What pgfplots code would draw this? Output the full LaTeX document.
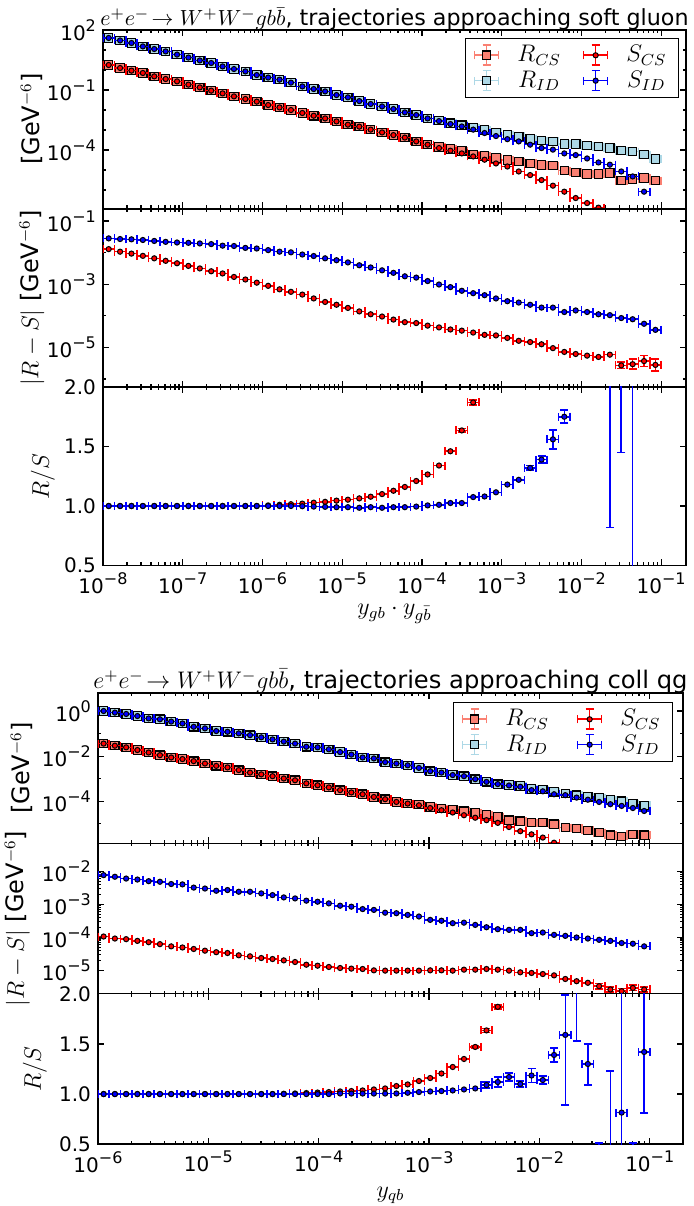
\documentclass[border=0pt]{standalone}
\usepackage[no-math]{fontspec}
\setmainfont{DejaVu Sans}
\usepackage{pgfplots}
\usepackage{pgfplotstable}
\pgfplotsset{compat=1.18}
\definecolor{salm}{RGB}{250,128,114}
\definecolor{lblue}{RGB}{173,216,230}
\newcommand{\tp}[1]{10\raisebox{0.45em}{\fontsize{8}{9}\selectfont#1}}

% bins of figure 1: 7 per decade, figure 2: 49 over 5 decades
\pgfplotstableread{
x rcs scs rid sid
1.1788e-8 1.78 1.78 40 40
1.6379e-8 1.26 1.26 30 30
2.2758e-8 0.93 0.93 22.4 22.4
3.1623e-8 0.71 0.71 15.1 15.1
4.3940e-8 0.48 0.48 11.2 11.2
6.1054e-8 0.355 0.355 8.5 8.5
8.4834e-8 0.27 0.27 5.9 5.9
1.1788e-7 0.186 0.186 4.2 4.2
1.6379e-7 0.135 0.135 3.0 3.0
2.2758e-7 0.093 0.093 2.24 2.24
3.1623e-7 0.068 0.068 1.51 1.51
4.3940e-7 0.048 0.048 1.12 1.12
6.1054e-7 0.0355 0.0355 0.85 0.85
8.4834e-7 0.0263 0.0263 0.56 0.56
1.1788e-6 0.0178 0.0178 0.42 0.42
1.6379e-6 0.0135 0.0135 0.33 0.33
2.2758e-6 0.0100 0.0100 0.234 0.234
3.1623e-6 7.1e-3 7.1e-3 0.151 0.151
4.3940e-6 5.2e-3 5.2e-3 0.112 0.112
6.1054e-6 3.8e-3 3.8e-3 0.085 0.085
8.4834e-6 2.7e-3 2.7e-3 0.056 0.056
1.1788e-5 1.86e-3 1.86e-3 0.043 0.043
1.6379e-5 1.48e-3 1.48e-3 0.028 0.028
2.2758e-5 1.05e-3 1.05e-3 0.020 0.020
3.1623e-5 7.6e-4 7.6e-4 0.0151 0.0151
4.3940e-5 5.6e-4 5.6e-4 0.0112 0.0112
6.1054e-5 4.2e-4 4.2e-4 7.6e-3 7.6e-3
8.4834e-5 2.7e-4 2.7e-4 5.6e-3 5.6e-3
1.1788e-4 1.86e-4 1.86e-4 3.8e-3 3.8e-3
1.6379e-4 1.41e-4 1.26e-4 2.95e-3 2.8e-3
2.2758e-4 1.12e-4 9.3e-5 2.19e-3 2.0e-3
3.1623e-4 8.9e-5 6.8e-5 1.74e-3 1.51e-3
4.3940e-4 5.9e-5 4.8e-5 1.32e-3 1.05e-3
6.1054e-4 5.2e-5 3.3e-5 1.0e-3 7.1e-4
8.4834e-4 4.0e-5 2.14e-5 7.6e-4 5.0e-4
1.1788e-3 3.16e-5 1.51e-5 5.6e-4 3.5e-4
1.6379e-3 2.63e-5 8.5e-6 4.8e-4 2.7e-4
2.2758e-3 2.14e-5 5.6e-6 3.55e-4 1.86e-4
3.1623e-3 1.78e-5 3.16e-6 2.95e-4 1.26e-4
4.3940e-3 1.66e-5 1.66e-6 2.69e-4 1.05e-4
6.1054e-3 9.3e-6 8.3e-7 2.0e-4 6.8e-5
8.4834e-3 7.6e-6 4.0e-7 2.0e-4 5.6e-5
1.1788e-2 6.3e-6 2.24e-7 1.66e-4 3.8e-5
1.6379e-2 6.3e-6 1.32e-7 1.48e-4 2.4e-5
2.2758e-2 7.1e-6 nan 1.26e-4 1.86e-5
3.1623e-2 2.95e-6 nan 9.3e-5 8.5e-6
4.3940e-2 3.55e-6 nan 8.3e-5 4.8e-6
6.1054e-2 4.0e-6 nan 5.9e-5 8.3e-7
8.4834e-2 2.95e-6 nan 3.55e-5 nan
}\topA

\pgfplotstableread{
x dcs did
1.1788e-8 0.0129 0.0282
1.6379e-8 0.0107 0.0269
2.2758e-8 9.3e-3 0.0263
3.1623e-8 7.9e-3 0.0251
4.3940e-8 6.6e-3 0.0234
6.1054e-8 5.5e-3 0.0219
8.4834e-8 4.6e-3 0.0209
1.1788e-7 3.8e-3 0.0204
1.6379e-7 3.16e-3 0.0195
2.2758e-7 2.57e-3 0.0186
3.1623e-7 2.19e-3 0.0166
4.3940e-7 1.70e-3 0.0162
6.1054e-7 1.41e-3 0.0141
8.4834e-7 1.12e-3 0.0135
1.1788e-6 8.9e-4 0.0120
1.6379e-6 6.9e-4 0.0107
2.2758e-6 5.75e-4 0.0102
3.1623e-6 4.7e-4 8.7e-3
4.3940e-6 3.55e-4 7.8e-3
6.1054e-6 2.75e-4 6.6e-3
8.4834e-6 2.24e-4 5.75e-3
1.1788e-5 1.78e-4 4.9e-3
1.6379e-5 1.38e-4 3.98e-3
2.2758e-5 1.12e-4 3.39e-3
3.1623e-5 9.5e-5 2.75e-3
4.3940e-5 7.6e-5 2.29e-3
6.1054e-5 6.3e-5 1.78e-3
8.4834e-5 5.9e-5 1.62e-3
1.1788e-4 4.9e-5 1.26e-3
1.6379e-4 4.3e-5 9.8e-4
2.2758e-4 3.7e-5 8.1e-4
3.1623e-4 3.4e-5 6.2e-4
4.3940e-4 2.95e-5 5.2e-4
6.1054e-4 2.5e-5 4.5e-4
8.4834e-4 2.4e-5 3.55e-4
1.1788e-3 2.0e-5 2.9e-4
1.6379e-3 1.62e-5 2.63e-4
2.2758e-3 1.48e-5 2.24e-4
3.1623e-3 1.26e-5 1.82e-4
4.3940e-3 9.5e-6 1.82e-4
6.1054e-3 7.2e-6 1.32e-4
8.4834e-3 6.2e-6 1.48e-4
1.1788e-2 5.5e-6 1.32e-4
1.6379e-2 5.0e-6 1.12e-4
2.2758e-2 5.9e-6 1.05e-4
3.1623e-2 nan 8.5e-5
4.3940e-2 nan 7.8e-5
6.1054e-2 nan 5.6e-5
8.4834e-2 nan 3.6e-5
}\midA

\pgfplotstableread{
x qcs qid
1.1788e-8 1.0 1.0
1.6379e-8 1.0 1.0
2.2758e-8 1.0 1.0
3.1623e-8 1.0 1.0
4.3940e-8 1.0 1.0
6.1054e-8 1.0 1.0
8.4834e-8 1.0 1.0
1.1788e-7 1.0 1.0
1.6379e-7 1.0 1.0
2.2758e-7 1.0 1.0
3.1623e-7 1.0 1.0
4.3940e-7 1.0 1.0
6.1054e-7 1.0 1.0
8.4834e-7 1.0 1.0
1.1788e-6 1.005 1.0
1.6379e-6 1.01 1.0
2.2758e-6 1.015 1.0
3.1623e-6 1.02 0.998
4.3940e-6 1.028 0.995
6.1054e-6 1.035 0.993
8.4834e-6 1.045 0.99
1.1788e-5 1.053 0.99
1.6379e-5 1.064 0.985
2.2758e-5 1.078 0.99
3.1623e-5 1.10 0.985
4.3940e-5 1.128 0.99
6.1054e-5 1.16 0.99
8.4834e-5 1.21 0.995
1.1788e-4 1.265 1.005
1.6379e-4 1.34 1.01
2.2758e-4 1.46 1.025
3.1623e-4 nan 1.025
4.3940e-4 nan 1.075
6.1054e-4 nan 1.08
8.4834e-4 nan 1.115
1.1788e-3 nan 1.18
1.6379e-3 nan 1.22
}\ratA

\pgfplotstableread{
x rcs scs rid sid
1.1247e-6 0.036 0.036 1.0 1.0
1.4227e-6 0.029 0.029 0.85 0.85
1.7993e-6 0.0245 0.0245 0.74 0.74
2.2758e-6 0.0186 0.0186 0.60 0.60
2.8791e-6 0.0145 0.0145 0.47 0.47
3.6411e-6 0.011 0.011 0.43 0.43
4.6057e-6 8.7e-3 8.7e-3 0.34 0.34
5.8260e-6 7.4e-3 7.4e-3 0.28 0.28
7.3693e-6 6.0e-3 6.0e-3 0.20 0.20
9.3196e-6 4.7e-3 4.7e-3 0.17 0.17
1.1788e-5 3.7e-3 3.7e-3 0.129 0.129
1.4910e-5 3.16e-3 3.16e-3 0.120 0.120
1.8859e-5 2.4e-3 2.4e-3 0.102 0.102
2.3853e-5 1.86e-3 1.86e-3 0.085 0.085
3.0171e-5 1.55e-3 1.55e-3 0.068 0.068
3.8162e-5 1.29e-3 1.29e-3 0.055 0.055
4.8271e-5 1.02e-3 1.02e-3 0.044 0.044
6.1054e-5 8.5e-4 8.5e-4 0.036 0.036
7.7227e-5 6.2e-4 6.2e-4 0.026 0.026
9.7679e-5 5.1e-4 5.1e-4 0.0245 0.0245
1.2355e-4 4.1e-4 4.1e-4 0.020 0.020
1.5627e-4 3.1e-4 3.1e-4 0.0151 0.0151
1.9767e-4 2.45e-4 2.45e-4 0.0117 0.0117
2.5001e-4 2.04e-4 2.04e-4 8.7e-3 8.7e-3
3.1623e-4 1.55e-4 1.55e-4 7.9e-3 7.9e-3
3.9997e-4 1.23e-4 1.23e-4 5.4e-3 5.4e-3
5.0590e-4 9.3e-5 9.3e-5 4.7e-3 4.7e-3
6.3996e-4 7.9e-5 7.9e-5 3.9e-3 3.9e-3
8.0946e-4 7.1e-5 6.6e-5 3.0e-3 3.0e-3
1.0238e-3 5.6e-5 5.0e-5 2.14e-3 2.14e-3
1.2949e-3 4.7e-5 4.0e-5 1.86e-3 1.86e-3
1.6380e-3 4.3e-5 3.16e-5 1.45e-3 1.45e-3
2.0720e-3 3.6e-5 2.4e-5 1.29e-3 1.29e-3
2.6206e-3 3.0e-5 1.86e-5 9.5e-4 9.5e-4
3.3147e-3 2.57e-5 1.45e-5 7.2e-4 7.2e-4
4.1927e-3 2.0e-5 1.10e-5 5.75e-4 5.75e-4
5.3031e-3 1.45e-5 7.2e-6 5.25e-4 5.0e-4
6.7079e-3 1.29e-5 4.7e-6 4.7e-4 4.4e-4
8.4834e-3 1.12e-5 3.4e-6 3.5e-4 3.1e-4
1.0730e-2 1.12e-5 2.45e-6 3.3e-4 2.75e-4
1.3572e-2 9.5e-6 1.45e-6 2.63e-4 2.04e-4
1.7168e-2 6.8e-6 7.9e-7 2.19e-4 1.86e-4
2.1715e-2 6.2e-6 nan 1.86e-4 1.45e-4
2.7465e-2 5.1e-6 nan 1.55e-4 1.17e-4
3.4741e-2 4.1e-6 nan 1.41e-4 9.3e-5
4.3940e-2 3.1e-6 nan 1.17e-4 7.4e-5
5.5583e-2 2.75e-6 nan 1.0e-4 6.2e-5
7.0302e-2 3.4e-6 nan 7.9e-5 5.0e-5
8.8923e-2 3.1e-6 nan 6.6e-5 3.7e-5
}\topB

\pgfplotstableread{
x dcs did
1.1247e-6 1.07e-4 7.6e-3
1.4227e-6 9.3e-5 6.8e-3
1.7993e-6 8.9e-5 6.0e-3
2.2758e-6 7.9e-5 5.6e-3
2.8791e-6 7.2e-5 5.0e-3
3.6411e-6 6.3e-5 4.8e-3
4.6057e-6 5.4e-5 4.1e-3
5.8260e-6 5.0e-5 4.0e-3
7.3693e-6 4.5e-5 3.2e-3
9.3196e-6 4.0e-5 3.0e-3
1.1788e-5 3.6e-5 2.57e-3
1.4910e-5 3.4e-5 2.7e-3
1.8859e-5 2.9e-5 2.4e-3
2.3853e-5 2.7e-5 2.4e-3
3.0171e-5 2.4e-5 2.14e-3
3.8162e-5 2.24e-5 1.9e-3
4.8271e-5 2.04e-5 1.62e-3
6.1054e-5 1.82e-5 1.51e-3
7.7227e-5 1.51e-5 1.29e-3
9.7679e-5 1.41e-5 1.20e-3
1.2355e-4 1.29e-5 1.07e-3
1.5627e-4 1.20e-5 9.1e-4
1.9767e-4 1.15e-5 8.5e-4
2.5001e-4 1.12e-5 7.2e-4
3.1623e-4 1.02e-5 6.8e-4
3.9997e-4 1.0e-5 5.6e-4
5.0590e-4 1.0e-5 5.4e-4
6.3996e-4 1.0e-5 4.8e-4
8.0946e-4 1.0e-5 4.3e-4
1.0238e-3 1.02e-5 3.4e-4
1.2949e-3 1.02e-5 3.2e-4
1.6380e-3 1.0e-5 2.7e-4
2.0720e-3 1.07e-5 2.8e-4
2.6206e-3 1.07e-5 2.4e-4
3.3147e-3 1.12e-5 2.04e-4
4.1927e-3 1.07e-5 1.78e-4
5.3031e-3 1.0e-5 1.70e-4
6.7079e-3 8.9e-6 1.70e-4
8.4834e-3 8.5e-6 1.35e-4
1.0730e-2 7.9e-6 1.41e-4
1.3572e-2 7.2e-6 1.20e-4
1.7168e-2 5.6e-6 1.12e-4
2.1715e-2 4.8e-6 1.0e-4
2.7465e-2 4.3e-6 9.3e-5
3.4741e-2 nan 8.5e-5
4.3940e-2 nan 7.9e-5
5.5583e-2 nan 6.8e-5
7.0302e-2 nan 6.5e-5
8.8923e-2 nan 5.4e-5
}\midB

\pgfplotstableread{
x qcs qid
1.1247e-6 1.0 1.0
1.4227e-6 1.0 1.0
1.7993e-6 1.0 1.0
2.2758e-6 1.0 1.0
2.8791e-6 1.0 1.0
3.6411e-6 1.0 1.0
4.6057e-6 1.0 1.0
5.8260e-6 1.0 1.0
7.3693e-6 1.0 1.0
9.3196e-6 1.0 1.0
1.1788e-5 1.0 1.0
1.4910e-5 1.0 1.0
1.8859e-5 1.0 1.0
2.3853e-5 1.0 1.0
3.0171e-5 1.0 1.0
3.8162e-5 1.0 1.0
4.8271e-5 1.003 1.0
6.1054e-5 1.006 1.0
7.7227e-5 1.01 1.0
9.7679e-5 1.015 1.0
1.2355e-4 1.02 1.0
1.5627e-4 1.026 1.006
1.9767e-4 1.03 1.005
2.5001e-4 1.036 1.005
3.1623e-4 1.046 1.005
3.9997e-4 1.056 1.005
5.0590e-4 1.08 1.006
6.3996e-4 1.096 1.013
8.0946e-4 1.13 1.02
1.0238e-3 1.16 1.026
1.2949e-3 1.205 1.03
1.6380e-3 1.27 1.036
2.0720e-3 1.35 1.046
2.6206e-3 nan 1.056
}\ratB

\pgfplotsset{
  every axis/.append style={scale only axis, tick align=inside,
    major tick length=3pt, minor tick length=1.5pt, axis line style={line width=0.7pt},
    tick style={black, line width=0.6pt}, clip marker paths=true,
    tick label style={font=\fontsize{10}{12}\selectfont},
    label style={font=\fontsize{12}{14}\selectfont}},
  myebar/.style={error bars/x dir=both, error bars/x explicit relative,
    error bars/error bar style={line width=0.8pt, #1},
    error bars/error mark options={rotate=90, #1, mark size=2pt, line width=0.8pt}},
  mylegimg/.style={legend image code/.code={
    \draw[##1, mark=none, line width=0.8pt] (0pt,0pt) -- (12pt,0pt) (6pt,-5pt) -- (6pt,5pt)
      (0pt,-2pt) -- (0pt,2pt) (12pt,-2pt) -- (12pt,2pt)
      (4pt,-5pt) -- (8pt,-5pt) (4pt,5pt) -- (8pt,5pt);
    \draw[##1, only marks] plot coordinates {(6pt,0pt)};}},
  mysq/.style={only marks, color=#1, mark=square*, mark size=2.1pt,
    mark options={draw=black, fill=#1, line width=0.6pt}, myebar=#1, mylegimg},
  mydot/.style={only marks, color=#1, mark=*, mark size=1.3pt,
    mark options={draw=black, fill=#1, line width=0.5pt}, myebar=#1, mylegimg},
  myyerr/.style={error bars/y dir=both, error bars/y explicit},
}

\begin{document}
\begin{tikzpicture}

% ---------- figure 1: soft gluon ----------
\begin{axis}[at={(51.5pt,588pt)}, anchor=north west, width=291.5pt, height=89.25pt,
  xmode=log, ymode=log, xmin=1e-8, xmax=0.205, ymin=1.2e-7, ymax=100,
  xtick={1e-8,1e-7,1e-6,1e-5,1e-4,1e-3,1e-2,1e-1}, xticklabels={},
  minor xtick={2e-8,3e-8,4e-8,5e-8,6e-8,7e-8,8e-8,9e-8,2e-7,3e-7,4e-7,5e-7,6e-7,7e-7,8e-7,9e-7,2e-6,3e-6,4e-6,5e-6,6e-6,7e-6,8e-6,9e-6,2e-5,3e-5,4e-5,5e-5,6e-5,7e-5,8e-5,9e-5,2e-4,3e-4,4e-4,5e-4,6e-4,7e-4,8e-4,9e-4,2e-3,3e-3,4e-3,5e-3,6e-3,7e-3,8e-3,9e-3,2e-2,3e-2,4e-2,5e-2,6e-2,7e-2,8e-2,9e-2,2e-1},
  ytick={1e-4,1e-1,1e2}, yticklabels={\tp{−4},\tp{−1},\tp{2}},
  minor ytick={1e-7,1e-6,1e-5,1e-3,1e-2,1,10},
  ylabel={[GeV$^{-6}$]}, ylabel style={at={(axis description cs:-0.122,0.5)}, anchor=center},
  title={$e^+e^-\!\to W^+W^-gb\bar{b}$, trajectories approaching soft gluon},
  title style={at={(0.5,1)}, anchor=base, yshift=-4pt, font=\fontsize{11.1}{13}\selectfont},
  legend columns=2, legend style={at={(1,1)}, anchor=north east,
    xshift=-3.5pt, yshift=-4pt, draw=black, line width=0.6pt, fill=white,
    font=\fontsize{12}{13}\selectfont, inner xsep=4pt, inner ysep=2pt,
    nodes={inner ysep=1.5pt},
    /tikz/every odd column/.append style={column sep=7pt},
    /tikz/every even column/.append style={column sep=9pt}}]
\addplot[mysq=salm] table[x=x, y=rcs, x error plus expr=0.17876, x error minus expr=0.15164] {\topA};
\addlegendentry{$R_{CS}$}
\addplot[mydot=red] table[x=x, y=scs, x error plus expr=0.17876, x error minus expr=0.15164] {\topA};
\addlegendentry{$S_{CS}$}
\addplot[mysq=lblue] table[x=x, y=rid, x error plus expr=0.17876, x error minus expr=0.15164] {\topA};
\addlegendentry{$R_{ID}$}
\addplot[mydot=blue] table[x=x, y=sid, x error plus expr=0.17876, x error minus expr=0.15164] {\topA};
\addlegendentry{$S_{ID}$}
\end{axis}

\begin{axis}[at={(51.5pt,498.5pt)}, anchor=north west, width=291.5pt, height=89.25pt,
  xmode=log, ymode=log, xmin=1e-8, xmax=0.205, ymin=5.4e-7, ymax=0.24,
  xtick={1e-8,1e-7,1e-6,1e-5,1e-4,1e-3,1e-2,1e-1}, xticklabels={},
  minor xtick={2e-8,3e-8,4e-8,5e-8,6e-8,7e-8,8e-8,9e-8,2e-7,3e-7,4e-7,5e-7,6e-7,7e-7,8e-7,9e-7,2e-6,3e-6,4e-6,5e-6,6e-6,7e-6,8e-6,9e-6,2e-5,3e-5,4e-5,5e-5,6e-5,7e-5,8e-5,9e-5,2e-4,3e-4,4e-4,5e-4,6e-4,7e-4,8e-4,9e-4,2e-3,3e-3,4e-3,5e-3,6e-3,7e-3,8e-3,9e-3,2e-2,3e-2,4e-2,5e-2,6e-2,7e-2,8e-2,9e-2,2e-1},
  ytick={1e-5,1e-3,1e-1}, yticklabels={\tp{−5},\tp{−3},\tp{−1}},
  minor ytick={1e-6,1e-4,1e-2},
  ylabel={$|R-S|$ [GeV$^{-6}$]}, ylabel style={at={(axis description cs:-0.122,0.5)}, anchor=center}]
\addplot[mydot=red] table[x=x, y=dcs, x error plus expr=0.17876, x error minus expr=0.15164] {\midA};
\addplot[mydot=red, myyerr] coordinates {
  (3.1623e-2,2.7e-6) += (0.17876,0.7e-6) -= (0.15164,0.56e-6)
  (4.3940e-2,2.95e-6) += (0.17876,1.3e-6) -= (0.15164,0.9e-6)
  (6.1054e-2,3.7e-6) += (0.17876,1.8e-6) -= (0.15164,1.2e-6)
  (8.4834e-2,2.8e-6) += (0.17876,1.6e-6) -= (0.15164,1.0e-6)};
\addplot[mydot=blue] table[x=x, y=did, x error plus expr=0.17876, x error minus expr=0.15164] {\midA};
\end{axis}

\begin{axis}[at={(51.5pt,409.5pt)}, anchor=north west, width=291.5pt, height=89.25pt,
  xmode=log, xmin=1e-8, xmax=0.205, ymin=0.5, ymax=2.0,
  xtick={1e-8,1e-7,1e-6,1e-5,1e-4,1e-3,1e-2,1e-1},
  xticklabels={\tp{−8},\tp{−7},\tp{−6},\tp{−5},\tp{−4},\tp{−3},\tp{−2},\tp{−1}},
  minor xtick={2e-8,3e-8,4e-8,5e-8,6e-8,7e-8,8e-8,9e-8,2e-7,3e-7,4e-7,5e-7,6e-7,7e-7,8e-7,9e-7,2e-6,3e-6,4e-6,5e-6,6e-6,7e-6,8e-6,9e-6,2e-5,3e-5,4e-5,5e-5,6e-5,7e-5,8e-5,9e-5,2e-4,3e-4,4e-4,5e-4,6e-4,7e-4,8e-4,9e-4,2e-3,3e-3,4e-3,5e-3,6e-3,7e-3,8e-3,9e-3,2e-2,3e-2,4e-2,5e-2,6e-2,7e-2,8e-2,9e-2,2e-1},
  ytick={0.5,1.0,1.5,2.0}, yticklabels={0.5,1.0,1.5,2.0},
  ylabel={$R/S$}, ylabel style={at={(axis description cs:-0.103,0.5)}, anchor=center},
  xlabel={$y_{gb}\cdot y_{g\bar{b}}$}, xlabel style={at={(axis description cs:0.5,-0.27)}, anchor=center}]
\addplot[mydot=red] table[x=x, y=qcs, x error plus expr=0.17876, x error minus expr=0.15164] {\ratA};
\addplot[mydot=red, myyerr] coordinates {
  (3.1623e-4,1.635) += (0.17876,0.015) -= (0.15164,0.015)
  (4.3940e-4,1.87) += (0.17876,0.02) -= (0.15164,0.02)};
\addplot[mydot=blue] table[x=x, y=qid, x error plus expr=0.17876, x error minus expr=0.15164] {\ratA};
\addplot[mydot=blue, myyerr] coordinates {
  (2.2758e-3,1.32) += (0.17876,0.02) -= (0.15164,0.02)
  (3.1623e-3,1.39) += (0.17876,0.03) -= (0.15164,0.03)
  (4.3940e-3,1.56) += (0.17876,0.08) -= (0.15164,0.08)
  (6.1054e-3,1.75) += (0.17876,0.055) -= (0.15164,0.055)
  (2.2758e-2,3.0) += (0.17876,1.0) -= (0.15164,2.18)
  (3.1623e-2,3.0) += (0.17876,1.0) -= (0.15164,1.55)
  (4.3940e-2,3.0) += (0.17876,1.0) -= (0.15164,3.0)};
\end{axis}

% ---------- figure 2: collinear qg ----------
\begin{axis}[at={(49pt,256.5pt)}, anchor=north west, width=292.5pt, height=75.2pt,
  xmode=log, ymode=log, xmin=1e-6, xmax=0.2, ymin=1.35e-6, ymax=6.3,
  xtick={1e-6,1e-5,1e-4,1e-3,1e-2,1e-1}, xticklabels={},
  minor xtick={2e-6,3e-6,4e-6,5e-6,6e-6,7e-6,8e-6,9e-6,2e-5,3e-5,4e-5,5e-5,6e-5,7e-5,8e-5,9e-5,2e-4,3e-4,4e-4,5e-4,6e-4,7e-4,8e-4,9e-4,2e-3,3e-3,4e-3,5e-3,6e-3,7e-3,8e-3,9e-3,2e-2,3e-2,4e-2,5e-2,6e-2,7e-2,8e-2,9e-2,2e-1},
  ytick={1e-4,1e-2,1}, yticklabels={\tp{−4},\tp{−2},\tp{0}},
  minor ytick={1e-5,1e-3,1e-1},
  ylabel={[GeV$^{-6}$]}, ylabel style={at={(axis description cs:-0.13,0.5)}, anchor=center},
  title={$e^+e^-\!\to W^+W^-gb\bar{b}$, trajectories approaching coll qg},
  title style={at={(0.5,1)}, anchor=base, yshift=-4pt, font=\fontsize{12.1}{14}\selectfont},
  legend columns=2, legend style={at={(1,1)}, anchor=north east,
    xshift=-5pt, yshift=-4.5pt, draw=black, line width=0.6pt, fill=white,
    font=\fontsize{12}{13}\selectfont, inner xsep=4pt, inner ysep=2pt,
    nodes={inner ysep=1.5pt},
    /tikz/every odd column/.append style={column sep=7pt},
    /tikz/every even column/.append style={column sep=12pt}}]
\addplot[mysq=salm] table[x=x, y=rcs, x error plus expr=0.1246, x error minus expr=0.1108] {\topB};
\addlegendentry{$R_{CS}$}
\addplot[mydot=red] table[x=x, y=scs, x error plus expr=0.1246, x error minus expr=0.1108] {\topB};
\addlegendentry{$S_{CS}$}
\addplot[mysq=lblue] table[x=x, y=rid, x error plus expr=0.1246, x error minus expr=0.1108] {\topB};
\addlegendentry{$R_{ID}$}
\addplot[mydot=blue] table[x=x, y=sid, x error plus expr=0.1246, x error minus expr=0.1108] {\topB};
\addlegendentry{$S_{ID}$}
\end{axis}

\begin{axis}[at={(49pt,181.3pt)}, anchor=north west, width=292.5pt, height=75.2pt,
  xmode=log, ymode=log, xmin=1e-6, xmax=0.2, ymin=2.0e-6, ymax=0.069,
  xtick={1e-6,1e-5,1e-4,1e-3,1e-2,1e-1}, xticklabels={},
  minor xtick={2e-6,3e-6,4e-6,5e-6,6e-6,7e-6,8e-6,9e-6,2e-5,3e-5,4e-5,5e-5,6e-5,7e-5,8e-5,9e-5,2e-4,3e-4,4e-4,5e-4,6e-4,7e-4,8e-4,9e-4,2e-3,3e-3,4e-3,5e-3,6e-3,7e-3,8e-3,9e-3,2e-2,3e-2,4e-2,5e-2,6e-2,7e-2,8e-2,9e-2,2e-1},
  ytick={1e-5,1e-4,1e-3,1e-2}, yticklabels={\tp{−5},\tp{−4},\tp{−3},\tp{−2}},
  ylabel={$|R-S|$ [GeV$^{-6}$]}, ylabel style={at={(axis description cs:-0.138,0.5)}, anchor=center}]
\addplot[mydot=red] table[x=x, y=dcs, x error plus expr=0.1246, x error minus expr=0.1108] {\midB};
\addplot[mydot=red, myyerr] coordinates {
  (3.4741e-2,3.4e-6) += (0.1246,0.69e-6) -= (0.1108,0.57e-6)
  (4.3940e-2,2.7e-6) += (0.1246,0.55e-6) -= (0.1108,0.45e-6)
  (5.5583e-2,2.4e-6) += (0.1246,0.49e-6) -= (0.1108,0.40e-6)
  (7.0302e-2,3.0e-6) += (0.1246,0.61e-6) -= (0.1108,0.50e-6)
  (8.8923e-2,2.7e-6) += (0.1246,0.55e-6) -= (0.1108,0.45e-6)};
\addplot[mydot=blue] table[x=x, y=did, x error plus expr=0.1246, x error minus expr=0.1108] {\midB};
\end{axis}

\begin{axis}[at={(49pt,106.1pt)}, anchor=north west, width=292.5pt, height=75.2pt,
  xmode=log, xmin=1e-6, xmax=0.2, ymin=0.5, ymax=2.0,
  xtick={1e-6,1e-5,1e-4,1e-3,1e-2,1e-1},
  xticklabels={\tp{−6},\tp{−5},\tp{−4},\tp{−3},\tp{−2},\tp{−1}},
  minor xtick={2e-6,3e-6,4e-6,5e-6,6e-6,7e-6,8e-6,9e-6,2e-5,3e-5,4e-5,5e-5,6e-5,7e-5,8e-5,9e-5,2e-4,3e-4,4e-4,5e-4,6e-4,7e-4,8e-4,9e-4,2e-3,3e-3,4e-3,5e-3,6e-3,7e-3,8e-3,9e-3,2e-2,3e-2,4e-2,5e-2,6e-2,7e-2,8e-2,9e-2,2e-1},
  ytick={0.5,1.0,1.5,2.0}, yticklabels={0.5,1.0,1.5,2.0},
  ylabel={$R/S$}, ylabel style={at={(axis description cs:-0.108,0.5)}, anchor=center},
  xlabel={$y_{qb}$}, xlabel style={at={(axis description cs:0.5,-0.34)}, anchor=center}]
\addplot[mydot=red] table[x=x, y=qcs, x error plus expr=0.1246, x error minus expr=0.1108] {\ratB};
\addplot[mydot=red, myyerr] coordinates {
  (2.6206e-3,1.47) += (0.1246,0.015) -= (0.1108,0.015)
  (3.3147e-3,1.635) += (0.1246,0.02) -= (0.1108,0.02)
  (4.1927e-3,1.87) += (0.1246,0.02) -= (0.1108,0.02)};
\addplot[mydot=blue] table[x=x, y=qid, x error plus expr=0.1246, x error minus expr=0.1108] {\ratB};
\addplot[mydot=blue, myyerr] coordinates {
  (3.3147e-3,1.09) += (0.1246,0.03) -= (0.1108,0.03)
  (4.1927e-3,1.12) += (0.1246,0.05) -= (0.1108,0.05)
  (5.3031e-3,1.17) += (0.1246,0.04) -= (0.1108,0.04)
  (6.7079e-3,1.10) += (0.1246,0.03) -= (0.1108,0.03)
  (8.4834e-3,1.185) += (0.1246,0.07) -= (0.1108,0.07)
  (1.0730e-2,1.14) += (0.1246,0.04) -= (0.1108,0.04)
  (1.3572e-2,1.39) += (0.1246,0.07) -= (0.1108,0.07)
  (1.7168e-2,1.59) += (0.1246,0.40) -= (0.1108,0.70)
  (2.1715e-2,2.5) += (0.1246,1.0) -= (0.1108,0.97)
  (2.7465e-2,1.30) += (0.1246,0.20) -= (0.1108,0.21)
  (3.4741e-2,0.3) += (0.1246,0.21) -= (0.1108,0.1)
  (4.3940e-2,0.1) += (0.1246,1.13) -= (0.1108,0.1)
  (5.5583e-2,0.815) += (0.1246,1.5) -= (0.1108,1.0)
  (7.0302e-2,0.2) += (0.1246,0.31) -= (0.1108,0.1)
  (8.8923e-2,1.42) += (0.1246,1.0) -= (0.1108,0.61)};
\end{axis}

\pgfresetboundingbox
\path[use as bounding box] (0pt,0pt) rectangle (346.5pt,603pt);
\end{tikzpicture}
\end{document}
